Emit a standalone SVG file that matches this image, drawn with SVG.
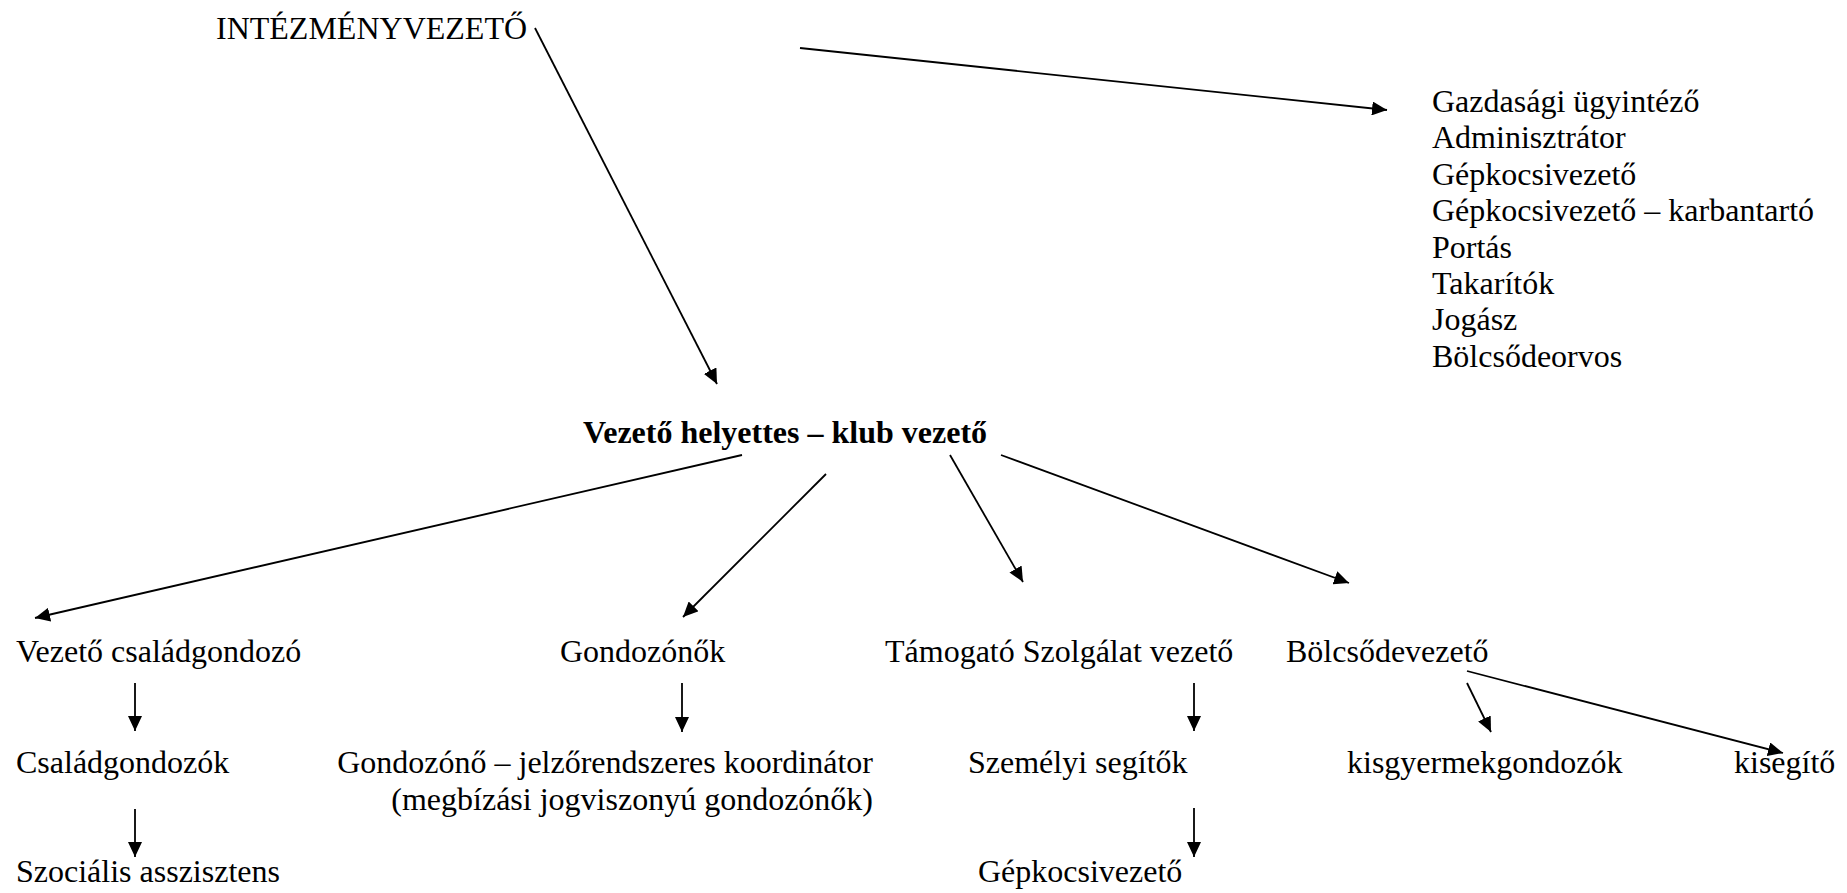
<svg xmlns="http://www.w3.org/2000/svg" width="1847" height="893" viewBox="0 0 1847 893">
<style>
text{font-family:'Liberation Serif','Times New Roman',Tinos,'DejaVu Serif',serif;font-size:32px;fill:#000}
.b{font-weight:bold}
.e{text-anchor:end}
line{stroke:#000;stroke-width:1.8;marker-end:url(#ah)}
</style>
<defs>
<marker id="ah" markerUnits="userSpaceOnUse" markerWidth="16" markerHeight="14" refX="15" refY="7" orient="auto">
<path d="M0,0 L15,7 L0,14 z" fill="#000"/>
</marker>
</defs>
<rect width="1847" height="893" fill="#fff"/>
<g id="connectors">
<line x1="535" y1="28" x2="717" y2="384"/>
<line x1="800" y1="48" x2="1387" y2="110"/>
<line x1="742" y1="455" x2="35" y2="618"/>
<line x1="826" y1="474" x2="683" y2="617"/>
<line x1="950" y1="455" x2="1023" y2="582"/>
<line x1="1001" y1="455" x2="1349" y2="583"/>
<line x1="135" y1="683" x2="135" y2="731"/>
<line x1="682" y1="683" x2="682" y2="732"/>
<line x1="1194" y1="683" x2="1194" y2="731"/>
<line x1="135" y1="809" x2="135" y2="857"/>
<line x1="1194" y1="808" x2="1194" y2="857"/>
<line x1="1467" y1="683" x2="1491" y2="732"/>
<line x1="1467" y1="671" x2="1783" y2="753"/>
</g>
<g id="intezmenyvezeto"><text x="216" y="39">INTÉZMÉNYVEZETŐ</text></g>
<g id="staff-list">
<text x="1432" y="112">Gazdasági ügyintéző</text>
<text x="1432" y="148">Adminisztrátor</text>
<text x="1432" y="185">Gépkocsivezető</text>
<text x="1432" y="221">Gépkocsivezető – karbantartó</text>
<text x="1432" y="258">Portás</text>
<text x="1432" y="294">Takarítók</text>
<text x="1432" y="330">Jogász</text>
<text x="1432" y="367">Bölcsődeorvos</text>
</g>
<g id="vezeto-helyettes"><text class="b" x="583" y="443">Vezető helyettes – klub vezető</text></g>
<g id="vezeto-csaladgondozo"><text x="16" y="662">Vezető családgondozó</text></g>
<g id="gondozonok"><text x="560" y="662">Gondozónők</text></g>
<g id="tamogato"><text x="885" y="662">Támogató Szolgálat vezető</text></g>
<g id="bolcsodevezeto"><text x="1286" y="662">Bölcsődevezető</text></g>
<g id="csaladgondozok"><text x="16" y="773">Családgondozók</text></g>
<g id="gondozono-koordinator">
<text class="e" x="873" y="773">Gondozónő – jelzőrendszeres koordinátor</text>
<text class="e" x="873" y="810">(megbízási jogviszonyú gondozónők)</text>
</g>
<g id="szemelyi-segitok"><text x="968" y="773">Személyi segítők</text></g>
<g id="kisgyermekgondozok"><text x="1347" y="773">kisgyermekgondozók</text></g>
<g id="kisegito"><text x="1734" y="773">kisegítő</text></g>
<g id="szocialis-asszisztens"><text x="16" y="882">Szociális asszisztens</text></g>
<g id="gepkocsivezeto"><text x="978" y="882">Gépkocsivezető</text></g>
</svg>
